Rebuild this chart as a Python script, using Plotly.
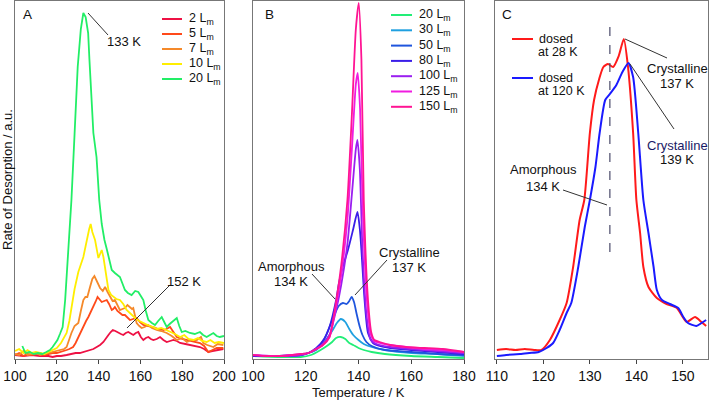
import plotly.graph_objects as go

# ---------------- Panel A data (Temperature K, rate a.u.) ----------------
a_labels = ["2 L<sub>m</sub>", "5 L<sub>m</sub>", "7 L<sub>m</sub>", "10 L<sub>m</sub>", "20 L<sub>m</sub>"]
a_colors = ["#ee1144", "#ff4a1a", "#f5892a", "#ffee00", "#22ee66"]

a2_T = [100,104,108,112,116,118,120,122,124.7,127,129,131,133,134.5,135.9,137.5,139.1,140.7,142.3,143.5,144.7,145.8,146.8,148,149.5,150.7,151.8,153,154.2,155.5,156.6,157.8,159,160.2,161.4,162.6,163.8,165,166.2,167.8,169.4,171,172.6,174.2,175.8,177.4,179,181.5,183.7,186,188.5,190.5,192.5,194.5,196.5,199.7]
a2_R = [4,3,4,3,3,2,3,3,4,5,6,6,7,8,9,10,12,14,17,20,24,27,29,28,26,25,24,26,27,25,24,26,27,22,19,21,22,20,19,20,22,19,17,18,19,18,16,15,14,13,12,10,7,8,9,10]

a5_T = [100,102,104,106,108,110,112,114,116,118,120,122,124.7,126,127.8,129,130.3,131.5,132.7,134,135.1,136.3,137.5,138.5,139.5,140.5,141.5,142.7,143.9,145,146.3,147,147.8,149,150.2,151.4,152.6,153.8,155,156.5,158.2,159.8,161.4,163.8,166.2,168.5,171,172.5,174.2,175.8,177.4,180,182.2,185,188.5,190.5,192.5,194.5,196.5,199.7]
a5_R = [4,6,3,5,4,5,6,4,5,6,6,7,9,10,12,16,22,27,32,38,42,47,52,57,62,59,57,58,59,55,49,50,52,48,46,44,44,41,39,40,41,37,34,33,32,30,29,30,32,27,22,20,19,17,16,13,7,9,11,11]

a7_T = [100,102,104,106,108,110,112,114,116,118,120,122,123.5,124.7,126,127,128.5,130.3,131.5,132.7,133.7,134.6,135.9,137,138,139.3,140.7,142,143.1,144.3,145.5,146.7,147.8,149,150.2,151.4,152.6,153.8,155,156,156.6,157.4,158.2,159.5,160.6,162,163.8,165.5,167.8,170,172.6,175,177.4,180,182.2,184.5,187,189,190.1,192,194.9,197,199.7]
a7_R = [5,4,8,4,5,6,4,5,6,7,8,9,10,12,20,26,33,36,48,59,62,62,72,80,83,77,71,68,72,67,62,58,59,54,49,50,51,54,52,50,51,44,36,33,31,32,34,31,29,28,26,23,19,21,17,19,19,22,16,14,12,15,14]

a10_T = [100,102,104,106,108,110,112,114,116,118,120,122,123.5,124.7,126,127,128.5,130.3,131.5,132.7,133.7,134.6,135.5,136.2,137,138.3,139.2,139.9,140.7,141.5,142.3,143.1,144,144.7,146,147,148.5,150.2,151.8,153.4,155,156.6,158,159.5,161.4,163,164.5,166.2,168,170,172.6,174.5,176.5,179,181,183,185.4,187.5,189.5,191.7,193.5,195.5,197.5,200]
a10_R = [8,10,6,9,6,7,6,5,7,9,11,16,21,26,38,52,70,87,95,102,112,122,130,135,127,119,108,101,105,109,102,92,80,69,64,62,60,59,55,49,46,42,40,38,36,35,33,32,30,31,29,27,25,22,24,20,19,21,18,17,19,16,17,16]

a20_T = [103.5,105,107,109,111,113,115,116.7,118,119,120.3,121.5,122.8,124,125.5,127,128.5,130,131.5,132.7,133.8,135,135.6,136.5,137.5,139,140.3,141.5,142.8,143.9,145,146.3,147.8,149,150.2,151.5,152.6,154,155.8,157.5,159,160.2,161.4,162.6,163.8,165.5,167,168.5,170.2,171.4,172.6,174,175.5,177.4,178.6,179.8,181.5,183.7,186,188.5,190,191.7,193.3,194.9,196.5,198,200]
a20_R = [13,6,7,5,6,5,7,9,12,15,19,25,32,59,109,159,225,292,330,346,342,326,300,260,226,202,159,135,119,110,100,89,86,84,82,75,69,66,64,68,67,63,59,48,39,36,34,38,42,37,32,35,38,41,33,27,28,26,25,27,24,22,24,26,23,22,23]

# ---------------- Panel B data ----------------
b_labels = ["20 L<sub>m</sub>", "30 L<sub>m</sub>", "50 L<sub>m</sub>", "80 L<sub>m</sub>",
            "100 L<sub>m</sub>", "125 L<sub>m</sub>", "150 L<sub>m</sub>"]
b_colors = ["#22ee77", "#1fa0e0", "#1f55dd", "#3a1ee8", "#9a1ff0", "#f01ce0", "#ff1493"]

b20_T = [100,110,118,122,125,128,130,131.5,133.3,135,136.5,138,140,142,145,150,160,170,180]
b20_R = [3,2,2,4,8,13,17,21,22,20,16,14,11,9,7,5,3,2,1]

b30_T = [100,110,118,121,124,127,130,131.8,133.3,135,136.5,138,140,142,145,150,160,170,180]
b30_R = [3,3,4,6,9,17,28,36,40,37,30,24,19,15,12,9,6,5,3]

b50_T = [100,110,118,121,124,127,129,131,132.5,134.1,135.5,136.5,137.4,138.3,139.3,140.5,141.5,143,145,150,160,170,180]
b50_R = [3,3,4,6,10,20,32,45,53,56,55,58,62,57,45,32,24,17,13,9,7,5,4]

b80_T = [100,110,118,121,124,127,129,131.6,132.6,134,136,138,139.6,140.5,141.1,142.3,143.6,145.5,148,152,160,170,180]
b80_R = [3,3,4,6,11,20,32,60,76,92,109,130,147,130,109,59,26,16,13,11,9,7,5]

b100_T = [100,110,118,121,124,126.5,129,131.6,133.5,135.8,137.5,139,139.6,140.5,141.5,143,144.5,146,148,152,160,170,180]
b100_R = [4,3,4,6,10,15,24,50,75,115,165,210,219,190,110,45,20,16,14,12,10,8,6]

b125_T = [100,110,118,121,124,126.5,129,131.6,133.5,135.8,137.5,139,139.7,140.6,141.6,143.3,144.7,146,148,152,158,165,172,180]
b125_R = [4,3,5,6,10,14,22,55,85,140,210,275,286,250,150,55,24,18,16,14,12,10,9,7]

b150_T = [100,105,110,115,118,121,124,126.5,129,131.6,133.5,135.8,137.5,139,140.1,141.1,142,143.6,144.9,146,148,152,158,165,172,180]
b150_R = [4,3,3,4,5,6,10,14,22,59,95,159,245,330,356,300,159,59,26,19,17,14,12,11,10,7]

# ---------------- Panel C data ----------------
c_red_T = [110,112,114,116,118,119.6,121.4,123.5,125,126.4,127.8,128.8,130,130.9,132,132.9,133.9,135,136.2,137.3,138.2,139.3,140,140.8,141.5,142.6,144.4,146.5,148.7,150.8,152.6,154,155]
c_red_R = [9,10,9,10,9,9,19,39,56,92,139,159,226,259,280,292,295,292,303,320,292,226,159,126,92,72,61,55,51,37,42,37,33]

c_blue_T = [110,112,115,117,119,120.7,122.1,123.5,125,126,127.5,128.9,130,131.2,132.1,133.3,134.3,135.7,137,138.3,139.3,140.4,141.5,142.6,143.7,144.4,145.5,147.2,149,150.1,151.1,152.9,154,155]
c_blue_R = [3,4,5,6,7,11,16,29,46,56,92,132,159,192,226,259,265,274,287,296,282,226,159,126,92,69,59,55,51,42,36,33,36,39]

amorphous_T = 134.3  # dashed marker position in panel C

W, H = 709, 400
FONT = "Liberation Sans, Arial, Helvetica, sans-serif"


def px(x, y):
    return x / W, 1 - y / H


fig = go.Figure()

for T, R, name, col in zip([a2_T, a5_T, a7_T, a10_T, a20_T], [a2_R, a5_R, a7_R, a10_R, a20_R], a_labels, a_colors):
    fig.add_trace(go.Scatter(x=T, y=R, mode="lines", line=dict(color=col, width=1.8),
                             xaxis="x", yaxis="y", showlegend=False, name=name))

for T, R, name, col in zip([b20_T, b30_T, b50_T, b80_T, b100_T, b125_T, b150_T],
                           [b20_R, b30_R, b50_R, b80_R, b100_R, b125_R, b150_R], b_labels, b_colors):
    fig.add_trace(go.Scatter(x=T, y=R, mode="lines", line=dict(color=col, width=1.8, shape="spline", smoothing=0.6),
                             xaxis="x2", yaxis="y2", showlegend=False, name=name))

fig.add_trace(go.Scatter(x=c_red_T, y=c_red_R, mode="lines", line=dict(color="#ff1a1a", width=2, shape="spline", smoothing=0.6),
                         xaxis="x3", yaxis="y3", showlegend=False))
fig.add_trace(go.Scatter(x=c_blue_T, y=c_blue_R, mode="lines", line=dict(color="#1a1aff", width=2, shape="spline", smoothing=0.6),
                         xaxis="x3", yaxis="y3", showlegend=False))

shapes = []
annotations = []

shapes.append(dict(type="line", xref="x3", yref="y3", x0=amorphous_T, x1=amorphous_T, y0=107, y1=334,
                   line=dict(color="#4a4a6a", width=1.2, dash="dash")))


def leader(x0, y0, x1, y1):
    a, b = px(x0, y0)
    c, d = px(x1, y1)
    shapes.append(dict(type="line", xref="paper", yref="paper", x0=a, y0=b, x1=c, y1=d,
                       line=dict(color="#333333", width=1)))


def text(x, y, s, size=13, xanchor="center", color="#111111"):
    a, b = px(x, y)
    annotations.append(dict(x=a, y=b, xref="paper", yref="paper", text=s, showarrow=False,
                            xanchor=xanchor, yanchor="middle", borderpad=0,
                            font=dict(family=FONT, size=size, color=color)))


def legend_row(x0, x1, y, col, label, tx, size=12.5):
    a, b = px(x0, y)
    c, _ = px(x1, y)
    shapes.append(dict(type="line", xref="paper", yref="paper", x0=a, y0=b, x1=c, y1=b,
                       line=dict(color=col, width=2)))
    text(tx, y, label, size=size, xanchor="left")


# Panel A labels
text(27, 15, "A", size=13.5)
leader(88, 13, 108, 35)
text(124, 42, "133 K")
leader(127, 328, 170, 285)
text(184, 281, "152 K")
for i, (lab, col) in enumerate(zip(a_labels, a_colors)):
    legend_row(162, 182, 19 + i * 15, col, lab, 188)

# Panel B labels
text(269, 15, "B", size=13.5)
text(291, 266, "Amorphous")
text(291, 281, "134 K")
leader(312, 274, 335, 299)
text(409, 252, "Crystalline")
text(409, 267, "137 K")
leader(387, 260, 355, 295)
for i, (lab, col) in enumerate(zip(b_labels, b_colors)):
    legend_row(391, 412, 15 + i * 15.3, col, lab, 418)

# Panel C labels
text(507, 15, "C", size=13.5)
legend_row(512, 533, 39, "#ff1a1a", "dosed", 538)
text(537, 52, "at 28 K", size=12.5, xanchor="left")
legend_row(512, 533, 78, "#1a1aff", "dosed", 538)
text(537, 91, "at 120 K", size=12.5, xanchor="left")
text(677, 68, "Crystalline")
text(677, 84, "137 K")
leader(625, 39, 667, 58)
text(677, 145, "Crystalline", color="#1a1a66")
text(677, 159, "139 K")
leader(630, 64, 674, 129)
text(543, 169, "Amorphous")
text(543, 186, "134 K")
leader(563, 190, 607, 205)

# axis titles
text(358, 392, "Temperature / K")
a, b = px(8, 180)
annotations.append(dict(x=a, y=b, xref="paper", yref="paper", text="Rate of Desorption / a.u.",
                        showarrow=False, textangle=-90, xanchor="center", yanchor="middle",
                        font=dict(family=FONT, size=13, color="#111111")))

ydom = [1 - 359 / H, 1 - 1 / H]


def xax(dom, rng, dtick, tick0, anchor):
    return dict(domain=dom, range=rng, dtick=dtick, tick0=tick0,
                showline=True, mirror=True, linecolor="#777777", linewidth=1,
                ticks="outside", ticklen=4, tickcolor="#444444", showgrid=False, zeroline=False,
                automargin=False,
                tickfont=dict(family=FONT, size=14, color="#111111"), anchor=anchor)


def yax(anchor):
    return dict(domain=ydom, range=[0, 358], showline=True, mirror=True, linecolor="#777777", linewidth=1,
                showticklabels=False, ticks="", showgrid=False, zeroline=False, anchor=anchor,
                automargin=False)


fig.update_layout(
    width=W, height=H, margin=dict(l=0, r=0, t=0, b=0, pad=0), autosize=False,
    paper_bgcolor="white", plot_bgcolor="white",
    xaxis=xax([15 / W, 224 / W], [100, 200], 20, 100, "y"),
    xaxis2=xax([253 / W, 464 / W], [100, 180], 20, 100, "y2"),
    xaxis3=xax([495 / W, 708 / W], [109.6, 155.4], 10, 110, "y3"),
    yaxis=yax("x"), yaxis2=yax("x2"), yaxis3=yax("x3"),
    shapes=shapes, annotations=annotations, showlegend=False,
)

fig.write_html("out.html", config={"responsive": False, "displayModeBar": False},
               post_script="document.body.style.margin='0';document.body.style.padding='0';document.body.style.overflow='hidden';")
